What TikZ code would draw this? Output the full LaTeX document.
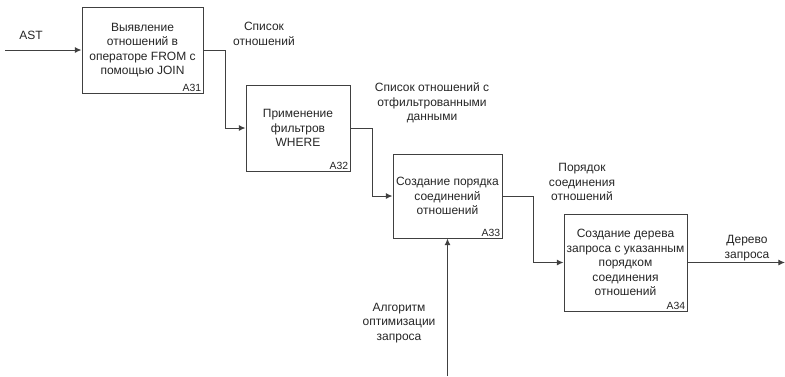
\documentclass[tikz,border=0pt]{standalone}
\usepackage{fontspec}
\setmainfont{Liberation Sans}
\usetikzlibrary{arrows.meta}
\begin{document}
\begin{tikzpicture}[x=0.75pt,y=-0.75pt,
  every node/.style={font=\fontsize{9}{10.9}\selectfont, text=black!85},
  fbox/.style={draw=black!75, line width=0.75pt, fill=white, inner sep=0pt, align=center},
  tag/.style={anchor=south east, inner sep=1.5pt, font=\fontsize{7.8}{9}\selectfont},
  lbl/.style={align=center, inner sep=0pt},
  conn/.style={draw=black!75, line width=0.75pt, -{Latex[length=5pt,width=4.5pt]}}
]
\useasboundingbox (0,0) rectangle (785,376);
% boxes
\node[fbox, minimum width=121*0.75pt, minimum height=86*0.75pt] (a31) at (142.5,50)
  {Выявление\\отношений в\\операторе FROM с\\помощью JOIN};
\node[tag] at (a31.south east) {A31};
\node[fbox, minimum width=104*0.75pt, minimum height=86*0.75pt] (a32) at (298,128)
  {Применение\\фильтров\\WHERE};
\node[tag] at (a32.south east) {A32};
\node[fbox, minimum width=109*0.75pt, minimum height=84*0.75pt] (a33) at (447.5,196)
  {Создание порядка\\соединений\\отношений};
\node[tag] at (a33.south east) {A33};
\node[fbox, minimum width=123*0.75pt, minimum height=97*0.75pt] (a34) at (625.5,262.5)
  {Создание дерева\\запроса с указанным\\порядком\\соединения\\отношений};
\node[tag] at (a34.south east) {A34};
% free ends
\coordinate (inAST) at (5,50);
\coordinate (outTree) at (785,262.5);
\coordinate (ctrl) at (447.5,376);
% connectors
\draw[conn] (inAST) -- (a31.west);
\draw[conn] (a31.east) -- (225,50) -- (225,128) -- (a32.west);
\draw[conn] (a32.east) -- (372,128) -- (372,196) -- (a33.west);
\draw[conn] (a33.east) -- (533,196) -- (533,262.5) -- (a34.west);
\draw[conn] (a34.east) -- (outTree);
\draw[conn] (ctrl) -- (a33.south);
% labels
\node[lbl] (lAST) at (31,35) {AST};
\node[lbl] (l1) at (264,34) {Список\\отношений};
\node[lbl] (l2) at (432,103) {Список отношений с\\отфильтрованными\\данными};
\node[lbl] (l3) at (582,182) {Порядок\\соединения\\отношений};
\node[lbl] (l4) at (399,323) {Алгоритм\\оптимизации\\запроса};
\node[lbl] (l5) at (747,248) {Дерево\\запроса};
\end{tikzpicture}
\end{document}
